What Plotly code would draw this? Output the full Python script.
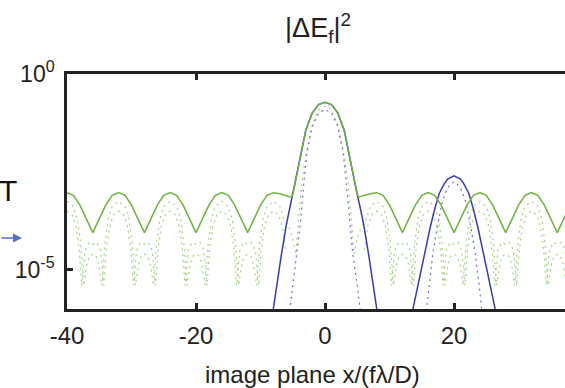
import plotly.graph_objects as go

# ---- data (log10 of |dE_f|^2) ----
green_solid_x = [-40, -39, -38, -37, -36, -35, -34, -33, -32, -31, -30, -29, -28, -27, -26, -25,
                 -24, -23, -22, -21, -20, -19, -18, -17, -16, -15, -14, -13, -12, -11, -10, -9,
                 -8, -7, -6, -5.2, -4.9, -4.5, -4, -3.6, -3, -2, -1, 0,
                 1, 2, 3, 3.6, 4, 4.5, 4.9, 5.2, 6, 7, 8, 9, 10, 11, 12, 13, 14, 15,
                 16, 17, 18, 19, 20, 21, 22, 23, 24, 25, 26, 27, 28, 29, 30, 31,
                 32, 33, 34, 35, 36, 37, 38]
green_solid_log = [-3.03, -3.10, -3.35, -3.70, -4.05, -3.70, -3.35, -3.10, -3.03, -3.10, -3.35, -3.70, -4.05, -3.70, -3.35, -3.10,
                   -3.03, -3.10, -3.35, -3.70, -4.05, -3.70, -3.35, -3.10, -3.03, -3.10, -3.35, -3.70, -4.05, -3.70, -3.35, -3.10,
                   -3.03, -3.06, -3.10, -3.15, -3.00, -2.70, -2.30, -1.95, -1.45, -1.00, -0.78, -0.72,
                   -0.78, -1.00, -1.45, -1.95, -2.30, -2.70, -3.00, -3.15, -3.10, -3.06, -3.03, -3.10, -3.35, -3.70, -4.05, -3.70, -3.35, -3.10,
                   -3.03, -3.10, -3.35, -3.70, -4.05, -3.70, -3.35, -3.10, -3.03, -3.10, -3.35, -3.70, -4.05, -3.70, -3.35, -3.10,
                   -3.03, -3.10, -3.35, -3.70, -4.05, -3.70, -3.35]

green_dot1_x = [-40, -39, -38.4, -37.9, -37.4, -36.9, -36.5, -36, -35.5, -35.1, -34.6, -34.1, -33.6, -33,
                -32, -31, -30.4, -29.9, -29.4, -28.9, -28.5, -28, -27.5, -27.1, -26.6, -26.1, -25.6, -25,
                -24, -23, -22.4, -21.9, -21.4, -20.9, -20.5, -20, -19.5, -19.1, -18.6, -18.1, -17.6, -17,
                -16, -15, -14.4, -13.9, -13.4, -12.9, -12.5, -12, -11.5, -11.1, -10.6, -10.1, -9.6, -9,
                -8, -7, -6.4, -5.6, -5.0, -4.5, -4.1, -3.6, -3, -2, -1, 0,
                1, 2, 3, 3.6, 4.1, 4.5, 5.0, 5.6, 6.4, 7,
                8, 9, 9.6, 10.1, 10.6, 11.1, 11.5, 12, 12.5, 12.9, 13.4, 13.9, 14.4, 15,
                16, 17, 17.6, 18.1, 18.6, 19.1, 19.5, 20, 20.5, 20.9, 21.4, 21.9, 22.4, 23,
                24, 25, 25.6, 26.1, 26.6, 27.1, 27.5, 28, 28.5, 28.9, 29.4, 29.9, 30.4, 31,
                32, 33, 33.6, 34.1, 34.6, 35.1, 35.5, 36, 36.5, 36.9, 37.4, 37.9]
green_dot1_log = [-3.25, -3.38, -3.70, -4.30, -5.40, -4.85, -4.65, -4.60, -4.65, -4.85, -5.40, -4.30, -3.70, -3.38,
                  -3.25, -3.38, -3.70, -4.30, -5.40, -4.85, -4.65, -4.60, -4.65, -4.85, -5.40, -4.30, -3.70, -3.38,
                  -3.25, -3.38, -3.70, -4.30, -5.40, -4.85, -4.65, -4.60, -4.65, -4.85, -5.40, -4.30, -3.70, -3.38,
                  -3.25, -3.38, -3.70, -4.30, -5.40, -4.85, -4.65, -4.60, -4.65, -4.85, -5.40, -4.30, -3.70, -3.38,
                  -3.25, -3.38, -3.70, -3.90, -4.20, -4.60, -3.70, -2.80, -2.10, -1.30, -0.92, -0.82,
                  -0.92, -1.30, -2.10, -2.80, -3.70, -4.60, -4.20, -3.90, -3.70, -3.38,
                  -3.25, -3.38, -3.70, -4.30, -5.40, -4.85, -4.65, -4.60, -4.65, -4.85, -5.40, -4.30, -3.70, -3.38,
                  -3.25, -3.38, -3.70, -4.30, -5.40, -4.85, -4.65, -4.60, -4.65, -4.85, -5.40, -4.30, -3.70, -3.38,
                  -3.25, -3.38, -3.70, -4.30, -5.40, -4.85, -4.65, -4.60, -4.65, -4.85, -5.40, -4.30, -3.70, -3.38,
                  -3.25, -3.38, -3.70, -4.30, -5.40, -4.85, -4.65, -4.60, -4.65, -4.85, -5.40, -4.30]

green_dot2_x = [-40, -39.2, -38.6, -38.1, -37.7, -37.2, -36.6, -36, -35.4, -34.8, -34.3, -33.9, -33.4, -32.8,
                -32, -31.2, -30.6, -30.1, -29.7, -29.2, -28.6, -28, -27.4, -26.8, -26.3, -25.9, -25.4, -24.8,
                -24, -23.2, -22.6, -22.1, -21.7, -21.2, -20.6, -20, -19.4, -18.8, -18.3, -17.9, -17.4, -16.8,
                -16, -15.2, -14.6, -14.1, -13.7, -13.2, -12.6, -12, -11.4, -10.8, -10.3, -9.9, -9.4, -8.8,
                -8, -7.2, -6.6, -6.1,
                None,
                6.1, 6.6, 7.2,
                8, 8.8, 9.4, 9.9, 10.3, 10.8, 11.4, 12, 12.6, 13.2, 13.7, 14.1, 14.6, 15.2,
                16, 16.8, 17.4, 17.9, 18.3, 18.8, 19.4, 20, 20.6, 21.2, 21.7, 22.1, 22.6, 23.2,
                24, 24.8, 25.4, 25.9, 26.3, 26.8, 27.4, 28, 28.6, 29.2, 29.7, 30.1, 30.6, 31.2,
                32, 32.8, 33.4, 33.9, 34.3, 34.8, 35.4, 36, 36.6, 37.2, 37.7]
green_dot2_log = [-3.50, -3.60, -3.90, -4.50, -5.40, -4.50, -4.30, -4.35, -4.30, -4.50, -5.40, -4.50, -3.90, -3.60,
                  -3.50, -3.60, -3.90, -4.50, -5.40, -4.50, -4.30, -4.35, -4.30, -4.50, -5.40, -4.50, -3.90, -3.60,
                  -3.50, -3.60, -3.90, -4.50, -5.40, -4.50, -4.30, -4.35, -4.30, -4.50, -5.40, -4.50, -3.90, -3.60,
                  -3.50, -3.60, -3.90, -4.50, -5.40, -4.50, -4.30, -4.35, -4.30, -4.50, -5.40, -4.50, -3.90, -3.60,
                  -3.50, -3.60, -3.90, -4.50,
                  None,
                  -4.50, -3.90, -3.60,
                  -3.50, -3.60, -3.90, -4.50, -5.40, -4.50, -4.30, -4.35, -4.30, -4.50, -5.40, -4.50, -3.90, -3.60,
                  -3.50, -3.60, -3.90, -4.50, -5.40, -4.50, -4.30, -4.35, -4.30, -4.50, -5.40, -4.50, -3.90, -3.60,
                  -3.50, -3.60, -3.90, -4.50, -5.40, -4.50, -4.30, -4.35, -4.30, -4.50, -5.40, -4.50, -3.90, -3.60,
                  -3.50, -3.60, -3.90, -4.50, -5.40, -4.50, -4.30, -4.35, -4.30, -4.50, -5.40]

blue_solid_x = [-8.2, -7.6, -6.8, -6, -5.5, -4.9, -4.5, -4, -3.6, -3, -2, -1, 0,
                1, 2, 3, 3.6, 4, 4.5, 4.9, 5.5, 6, 6.8, 7.6, 8.2,
                None,
                13.5, 14.1, 15.2, 16.3, 17, 17.7, 18.5, 19, 20, 21, 21.5, 22.3, 23, 23.7, 24.8, 25.9, 26.5]
blue_solid_log = [-6.2, -5.5, -4.65, -3.85, -3.45, -3.0, -2.7, -2.3, -1.95, -1.45, -1.0, -0.78, -0.72,
                  -0.78, -1.0, -1.45, -1.95, -2.3, -2.7, -3.0, -3.45, -3.85, -4.65, -5.5, -6.2,
                  None,
                  -6.1, -5.62, -4.77, -3.92, -3.45, -3.05, -2.8, -2.68, -2.6, -2.68, -2.8, -3.05, -3.45, -3.92, -4.77, -5.62, -6.1]

blue_dot_x = [-5.6, -5.0, -4.3, -3.8, -3.3, -2.8, -2, -1, 0, 1, 2, 2.8, 3.3, 3.8, 4.3, 5.0, 5.6,
              None,
              15.6, 16.1, 16.7, 17.4, 18.2, 19, 20, 21, 21.8, 22.6, 23.3, 23.9, 24.4]
blue_dot_log = [-6.2, -5.4, -4.6, -3.8, -2.8, -2.0, -1.35, -1.0, -0.9, -1.0, -1.35, -2.0, -2.8, -3.8, -4.6, -5.4, -6.2,
                None,
                -6.2, -5.4, -4.6, -3.9, -3.25, -2.9, -2.75, -2.9, -3.25, -3.9, -4.6, -5.4, -6.2]

x_ticks = [-40, -20, 0, 20]
x_tick_text = ["-40", "-20", "0", "20"]
y_ticks = [1, 1e-5]
y_tick_text = ["10<sup>0</sup>", "10<sup>-5</sup>"]


def lin(v):
    return [None if a is None else 10 ** a for a in v]


GREEN = "#6cb43c"
GREEN_DOT = "#a6d088"
BLUE = "#3a3ab6"
BLUE_DOT = "#7070cc"
INK = "#222222"

fig = go.Figure()
fig.add_trace(go.Scatter(x=green_dot2_x, y=lin(green_dot2_log), mode="lines", connectgaps=False,
                         line=dict(color=GREEN_DOT, width=1.2, dash="2px,4px"), hoverinfo="skip"))
fig.add_trace(go.Scatter(x=green_dot1_x, y=lin(green_dot1_log), mode="lines",
                         line=dict(color=GREEN_DOT, width=1.2, dash="2px,4px"), hoverinfo="skip"))
fig.add_trace(go.Scatter(x=blue_dot_x, y=lin(blue_dot_log), mode="lines", connectgaps=False,
                         line=dict(color=BLUE_DOT, width=1.2, dash="2px,4px"), hoverinfo="skip"))
fig.add_trace(go.Scatter(x=blue_solid_x, y=lin(blue_solid_log), mode="lines", connectgaps=False,
                         line=dict(color=BLUE, width=1.5), hoverinfo="skip"))
fig.add_trace(go.Scatter(x=green_solid_x, y=lin(green_solid_log), mode="lines",
                         line=dict(color=GREEN, width=1.5), hoverinfo="skip"))

FONT = "Liberation Sans, Arial, sans-serif"

fig.update_layout(
    width=565, height=388,
    margin=dict(l=67, r=0, t=74, b=79, autoexpand=False),
    paper_bgcolor="white", plot_bgcolor="white",
    showlegend=False,
    font=dict(family=FONT, size=22, color=INK),
    title=dict(text="|ΔE<sub>f</sub>|<sup>2</sup>", x=318 / 565, xref="container", xanchor="center",
               y=1 - 28 / 388, yref="container", yanchor="middle",
               font=dict(family=FONT, size=27, color=INK)),
    xaxis=dict(range=[-40, 37.2], tickvals=x_ticks, ticktext=x_tick_text, ticks="inside", ticklen=6,
               tickwidth=2.5, tickcolor=INK, showline=True, linecolor=INK, linewidth=2.5, mirror="ticks",
               showgrid=False, zeroline=False, automargin=False,
               tickfont=dict(family=FONT, size=24, color=INK), ticklabelstandoff=3),
    yaxis=dict(type="log", range=[-6.0, 0.0], tickvals=y_ticks, ticktext=y_tick_text,
               ticks="inside", ticklen=6, tickwidth=2.5, tickcolor=INK,
               showline=True, linecolor=INK, linewidth=2.5, mirror=False, automargin=False,
               showgrid=False, zeroline=False, tickfont=dict(family=FONT, size=23, color=INK),
               ticklabelstandoff=5),
)

fig.add_annotation(text="image plane x/(fλ/D)", xref="paper", yref="paper",
                   x=(312 - 67) / 498, y=(309 - 374) / 235, xanchor="center", yanchor="middle",
                   showarrow=False, font=dict(family=FONT, size=24, color=INK))
fig.add_annotation(text="T", xref="paper", yref="paper",
                   x=(8 - 67) / 498, y=(309 - 190) / 235, xanchor="center", yanchor="middle",
                   showarrow=False, font=dict(family=FONT, size=30, color="#111111"))
fig.add_annotation(text="", xref="paper", yref="paper",
                   x=(22 - 67) / 498, y=(309 - 238) / 235, ax=-24, ay=0,
                   showarrow=True, arrowhead=2, arrowsize=1.2, arrowwidth=1.5, arrowcolor="#4f72c4")

fig.write_html("out.html", config={"displayModeBar": False},
               post_script="document.body.style.margin='0px';document.body.style.overflow='hidden';")
